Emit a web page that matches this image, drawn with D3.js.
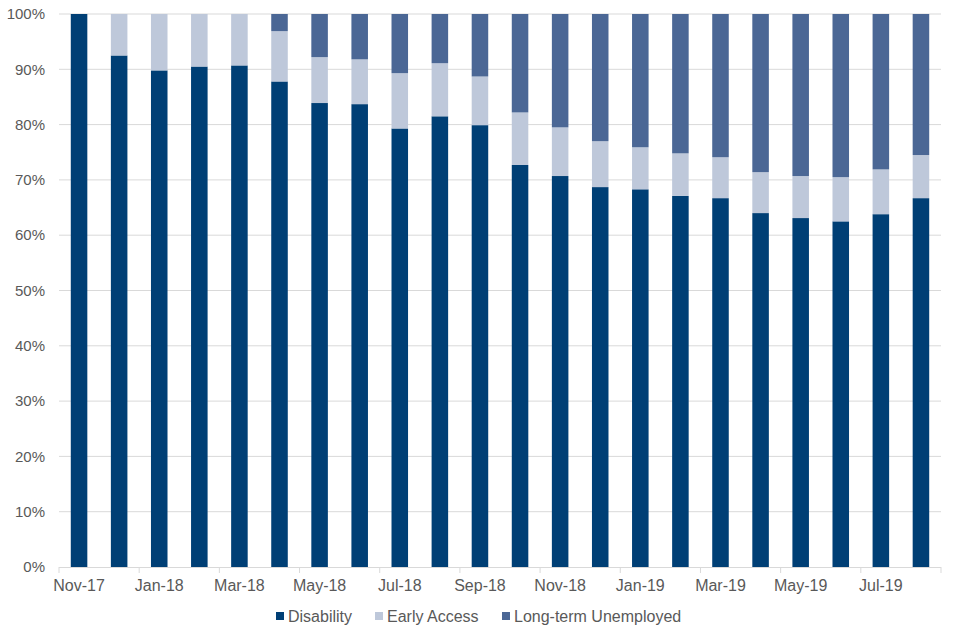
<!DOCTYPE html>
<html>
<head>
<meta charset="utf-8">
<script src="https://cdn.jsdelivr.net/npm/d3@7"></script>
<style>
  html, body { margin: 0; padding: 0; background: #fff; }
  svg { display: block; font-family: "Liberation Sans", Arial, sans-serif; }
</style>
</head>
<body>
<svg id="chart" width="960" height="640"></svg>
<script>
const months = ["Nov-17","Dec-17","Jan-18","Feb-18","Mar-18","Apr-18","May-18","Jun-18","Jul-18","Aug-18","Sep-18","Oct-18","Nov-18","Dec-18","Jan-19","Feb-19","Mar-19","Apr-19","May-19","Jun-19","Jul-19","Aug-19"];
const disability = [100, 92.5, 89.8, 90.5, 90.7, 87.8, 83.9, 83.7, 79.3, 81.5, 79.9, 72.7, 70.7, 68.7, 68.3, 67.1, 66.7, 64.0, 63.1, 62.5, 63.8, 66.7];
const earlyAccess = [0, 7.5, 10.2, 9.5, 9.3, 9.1, 8.3, 8.1, 10.0, 9.6, 8.8, 9.5, 8.8, 8.3, 7.6, 7.7, 7.4, 7.4, 7.6, 8.0, 8.1, 7.8];
const longTermUnemployed = [0, 0, 0, 0, 0, 3.1, 7.8, 8.2, 10.7, 8.9, 11.3, 17.8, 20.5, 23.0, 24.1, 25.2, 25.9, 28.6, 29.3, 29.5, 28.1, 25.5];
const seriesNames = ["Disability", "Early Access", "Long-term Unemployed"];
const seriesColors = ["#003f75", "#bec8da", "#4b6795"];
const yTicks = [0, 10, 20, 30, 40, 50, 60, 70, 80, 90, 100];
const xTickLabels = ["Nov-17","Jan-18","Mar-18","May-18","Jul-18","Sep-18","Nov-18","Jan-19","Mar-19","May-19","Jul-19"];

(function () {
const rows = months.map((m, i) => ({
  month: m,
  "Disability": disability[i],
  "Early Access": earlyAccess[i],
  "Long-term Unemployed": longTermUnemployed[i]
}));

const svg = d3.select("#chart");
const pLeft = 59, pRight = 941, pTop = 14, pBottom = 567;

const x = d3.scaleBand().domain(months).range([pLeft, pRight]).paddingInner(0.5875).paddingOuter(0.294);
const y = d3.scaleLinear().domain([0, 100]).range([pBottom, pTop]);

// gridlines
svg.append("g").selectAll("line").data(yTicks.filter(d => d > 0)).join("line")
  .attr("x1", pLeft).attr("x2", pRight)
  .attr("y1", d => y(d)).attr("y2", d => y(d))
  .attr("stroke", "#d9d9d9").attr("stroke-width", 1);

// y labels
svg.append("g").selectAll("text").data(yTicks).join("text")
  .attr("x", 45).attr("y", d => y(d)).attr("dy", "0.35em")
  .attr("text-anchor", "end").attr("fill", "#595959").attr("font-size", 15)
  .text(d => d + "%");

// bars
const stacked = d3.stack().keys(seriesNames)(rows);
const color = d3.scaleOrdinal().domain(seriesNames).range(seriesColors);
svg.append("g").selectAll("g").data(stacked).join("g")
  .attr("fill", d => color(d.key))
  .selectAll("rect").data(d => d).join("rect")
  .attr("x", d => x(d.data.month))
  .attr("width", x.bandwidth())
  .attr("y", d => y(d[1]))
  .attr("height", d => y(d[0]) - y(d[1]));

// x axis line
svg.append("line").attr("x1", pLeft).attr("x2", pRight).attr("y1", pBottom + 0.5).attr("y2", pBottom + 0.5)
  .attr("stroke", "#d9d9d9");

// tick marks at boundaries every two months
const boundaries = d3.range(0, months.length + 1, 2).map(i => pLeft + i * (pRight - pLeft) / months.length);
svg.append("g").selectAll("line").data(boundaries).join("line")
  .attr("x1", d => d).attr("x2", d => d)
  .attr("y1", pBottom).attr("y2", pBottom + 6)
  .attr("stroke", "#d9d9d9");

// x labels
svg.append("g").selectAll("text").data(xTickLabels).join("text")
  .attr("x", d => x(d) + x.bandwidth() / 2).attr("y", 585).attr("dy", "0.35em")
  .attr("text-anchor", "middle").attr("fill", "#595959").attr("font-size", 16)
  .text(d => d);

// legend
const legendItems = [
  { name: "Disability", sx: 276 },
  { name: "Early Access", sx: 375 },
  { name: "Long-term Unemployed", sx: 502 }
];
const lg = svg.append("g").selectAll("g").data(legendItems).join("g");
lg.append("rect").attr("x", d => d.sx).attr("y", 612).attr("width", 8).attr("height", 8)
  .attr("fill", d => color(d.name));
lg.append("text").attr("x", d => d.sx + 12).attr("y", 616).attr("dy", "0.35em")
  .attr("fill", "#595959").attr("font-size", 16).text(d => d.name);
})();
</script>
</body>
</html>
